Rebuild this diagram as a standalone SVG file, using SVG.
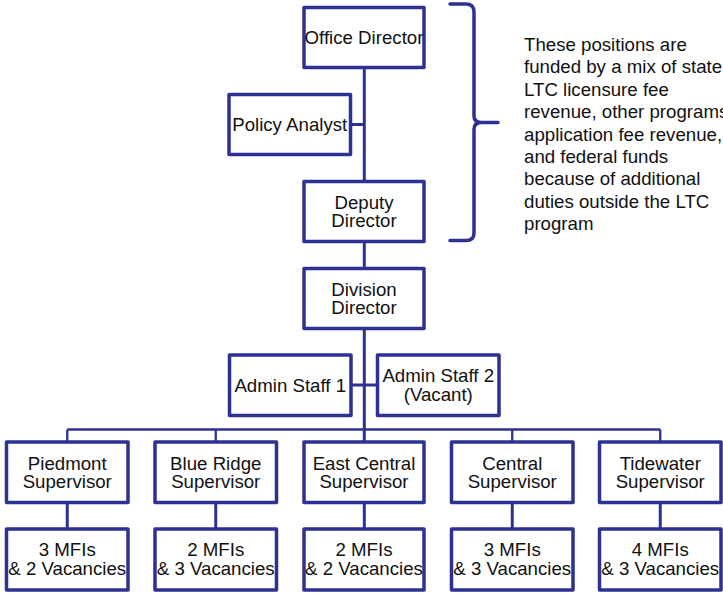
<svg xmlns="http://www.w3.org/2000/svg" width="723" height="594" viewBox="0 0 723 594">
<style>
.box{fill:#fff;stroke:#2e3192;stroke-width:3.5;stroke-linejoin:round}
.ln{fill:none;stroke:#2e3192;stroke-width:3}
.thin{fill:none;stroke:#2e3192;stroke-width:2.3}
text{font-family:"Liberation Sans",Arial,Helvetica,sans-serif;font-size:18.67px;fill:#111}
.c{text-anchor:middle}
</style>
<rect width="723" height="594" fill="#fff"/>
<g id="connectors">
<path class="ln" d="M364.3,67.5 V442"/>
<path class="ln" d="M350,124.5 H364.3"/>
<path class="ln" d="M351,385 H377.5"/>
<path class="thin" d="M67.25,429.5 H660.25"/>
<path class="thin" d="M67.25,429.5 V442 M215.75,429.5 V442 M512.25,429.5 V442 M660.25,429.5 V442"/>
<path class="ln" d="M67.25,502.5 V529 M215.75,502.5 V529 M364.3,502.5 V529 M512.25,502.5 V529 M660.25,502.5 V529"/>
<path fill="none" stroke="#2e3192" stroke-width="3.5" stroke-linecap="round" d="M450,4 L466,4 Q474,4 474,12 L474,116 Q474,122.5 482,122.5 L498,122.5 M482,122.5 Q474,122.5 474,129 L474,233 Q474,240.5 466,240.5 L450,240.5"/>
</g>
<g id="office-director"><rect class="box" x="304" y="7.5" width="120" height="60"/><text class="c" x="364" y="43.5">Office Director</text></g>
<g id="policy-analyst"><rect class="box" x="229" y="94.5" width="121.5" height="60"/><text class="c" x="289.75" y="130.5">Policy Analyst</text></g>
<g id="deputy-director"><rect class="box" x="304" y="181.5" width="120" height="60"/><text class="c" x="364" y="208.5">Deputy</text><text class="c" x="364" y="227">Director</text></g>
<g id="division-director"><rect class="box" x="304" y="268.5" width="120" height="60"/><text class="c" x="364" y="295.5">Division</text><text class="c" x="364" y="314">Director</text></g>
<g id="admin-staff-1"><rect class="box" x="229.5" y="355" width="121.5" height="60.5"/><text class="c" x="290.25" y="391.5">Admin Staff 1</text></g>
<g id="admin-staff-2"><rect class="box" x="377.5" y="355" width="121.5" height="60.5"/><text class="c" x="438.25" y="382">Admin Staff 2</text><text class="c" x="438.25" y="400.5">(Vacant)</text></g>
<g id="piedmont"><rect class="box" x="6.5" y="442" width="121.5" height="60.5"/><text class="c" x="67.25" y="469.5">Piedmont</text><text class="c" x="67.25" y="488">Supervisor</text></g>
<g id="blue-ridge"><rect class="box" x="155" y="442" width="121.5" height="60.5"/><text class="c" x="215.75" y="469.5">Blue Ridge</text><text class="c" x="215.75" y="488">Supervisor</text></g>
<g id="east-central"><rect class="box" x="304" y="442" width="120" height="60.5"/><text class="c" x="364" y="469.5">East Central</text><text class="c" x="364" y="488">Supervisor</text></g>
<g id="central"><rect class="box" x="451.5" y="442" width="121.5" height="60.5"/><text class="c" x="512.25" y="469.5">Central</text><text class="c" x="512.25" y="488">Supervisor</text></g>
<g id="tidewater"><rect class="box" x="599.5" y="442" width="121.5" height="60.5"/><text class="c" x="660.25" y="469.5">Tidewater</text><text class="c" x="660.25" y="488">Supervisor</text></g>
<g id="piedmont-staff"><rect class="box" x="6.5" y="529" width="121.5" height="61"/><text class="c" x="67.25" y="555.5">3 MFIs</text><text class="c" x="67.25" y="575">&amp; 2 Vacancies</text></g>
<g id="blue-ridge-staff"><rect class="box" x="155" y="529" width="121.5" height="61"/><text class="c" x="215.75" y="555.5">2 MFIs</text><text class="c" x="215.75" y="575">&amp; 3 Vacancies</text></g>
<g id="east-central-staff"><rect class="box" x="304" y="529" width="120" height="61"/><text class="c" x="364" y="555.5">2 MFIs</text><text class="c" x="364" y="575">&amp; 2 Vacancies</text></g>
<g id="central-staff"><rect class="box" x="451.5" y="529" width="121.5" height="61"/><text class="c" x="512.25" y="555.5">3 MFIs</text><text class="c" x="512.25" y="575">&amp; 3 Vacancies</text></g>
<g id="tidewater-staff"><rect class="box" x="599.5" y="529" width="121.5" height="61"/><text class="c" x="660.25" y="555.5">4 MFIs</text><text class="c" x="660.25" y="575">&amp; 3 Vacancies</text></g>
<g id="note">
<text x="524" y="51">These positions are</text>
<text x="524" y="73.4">funded by a mix of state</text>
<text x="524" y="95.8">LTC licensure fee</text>
<text x="524" y="118.2">revenue, other programs</text>
<text x="524" y="140.6">application fee revenue,</text>
<text x="524" y="163">and federal funds</text>
<text x="524" y="185.4">because of additional</text>
<text x="524" y="207.8">duties outside the LTC</text>
<text x="524" y="230.2">program</text>
</g>
</svg>
